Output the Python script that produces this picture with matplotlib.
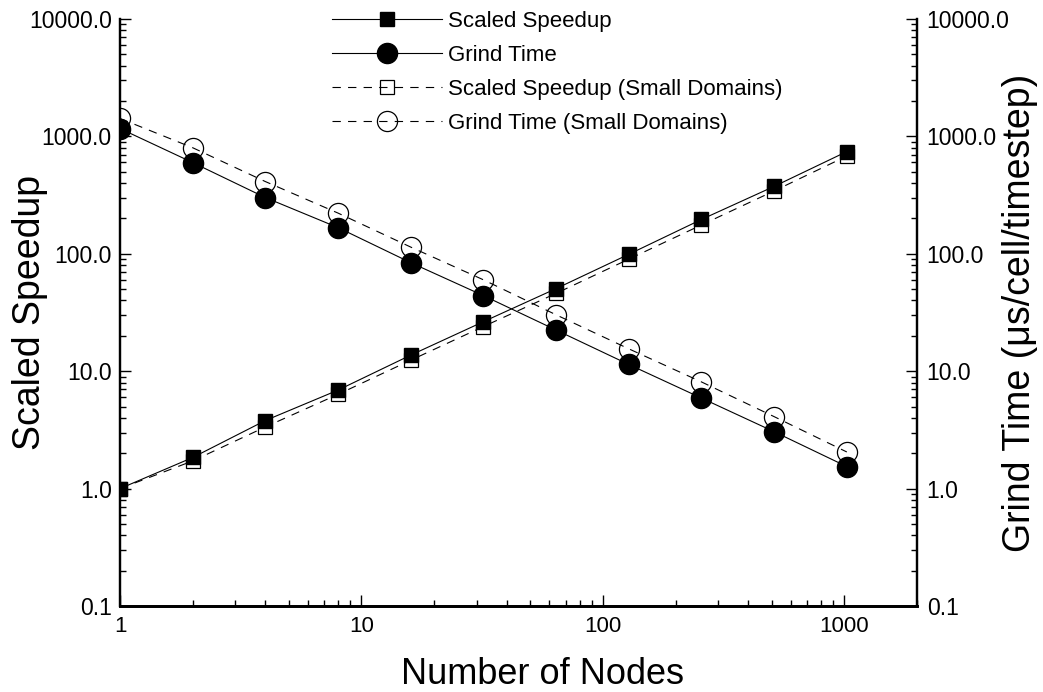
import matplotlib
matplotlib.use("Agg")
import matplotlib.pyplot as plt
from matplotlib.ticker import FixedLocator, FuncFormatter, LogLocator, NullFormatter

plt.rcParams["font.family"] = ["Liberation Sans", "DejaVu Sans"]

# values
nodes = [1, 2, 4, 8, 16, 32, 64, 128, 256, 512, 1024]
speedup = [1.0, 1.84, 3.8, 6.9, 13.7, 26.4, 50.5, 99, 196, 375, 742]
speedup_small = [1.0, 1.72, 3.35, 6.35, 12.4, 24.0, 46.0, 90, 176, 343, 680]
grind = [1165, 598, 301, 167, 84, 44, 22.4, 11.4, 5.9, 3.05, 1.54]
grind_small = [1420, 800, 412, 222, 114, 60, 30.2, 15.5, 8.1, 4.1, 2.05]

x_ticks = [1, 10, 100, 1000]
y_ticks = [0.1, 1, 10, 100, 1000, 10000]

dash = (0, (7.5, 6.5))

fig = plt.figure(figsize=(10.43, 6.92), dpi=100)
ax = fig.add_axes([0.1151, 0.1243, 0.7641, 0.8483])
ax2 = ax.twinx()

for a in (ax, ax2):
    a.set_xscale("log")
    a.set_yscale("log")
    a.set_ylim(0.1, 10000)
    a.yaxis.set_major_locator(FixedLocator(y_ticks))
    a.yaxis.set_minor_locator(LogLocator(base=10, subs=range(2, 10), numticks=20))
    a.yaxis.set_major_formatter(FuncFormatter(lambda v, _: f"{v:.1f}"))
    a.yaxis.set_minor_formatter(NullFormatter())
    a.spines["top"].set_visible(False)
    a.set_facecolor("none")
    for s in ("left", "right"):
        a.spines[s].set_linewidth(1.6)
    a.spines["bottom"].set_linewidth(2.0)
ax.set_xlim(1, 2000)
ax.xaxis.set_major_locator(FixedLocator(x_ticks))
ax.xaxis.set_minor_locator(LogLocator(base=10, subs=range(2, 10), numticks=20))
ax.xaxis.set_major_formatter(FuncFormatter(lambda v, _: f"{int(v)}"))
ax.xaxis.set_minor_formatter(NullFormatter())

ax.tick_params(which="both", direction="in", labelsize=16, pad=7.5, width=1.0,
               left=True, right=False, top=False, bottom=True)
ax.tick_params(axis="y", which="both", labelsize=16.5, pad=6)
ax.tick_params(which="major", length=8)
ax.tick_params(which="minor", length=4.3)
ax2.tick_params(which="both", direction="in", labelsize=16.5, pad=7, width=1.0,
                left=False, right=True)
ax2.tick_params(which="major", length=8)
ax2.tick_params(which="minor", length=4.3)

l3, = ax.plot(nodes, speedup_small, color="black", lw=0.8, linestyle=dash,
              marker="s", markersize=10.5, markerfacecolor="none",
              markeredgecolor="black", markeredgewidth=0.9,
              label="Scaled Speedup (Small Domains)")
l1, = ax.plot(nodes, speedup, color="black", lw=0.8, marker="s", markersize=10.5,
              markerfacecolor="black", markeredgecolor="black",
              label="Scaled Speedup")
l4, = ax2.plot(nodes, grind_small, color="black", lw=0.8, linestyle=dash,
               marker="o", markersize=14.5, markerfacecolor="none",
               markeredgecolor="black", markeredgewidth=0.9,
               label="Grind Time (Small Domains)")
l2, = ax2.plot(nodes, grind, color="black", lw=0.8, marker="o", markersize=14.5,
               markerfacecolor="black", markeredgecolor="black",
               label="Grind Time")

ax.set_xlabel("Number of Nodes", fontsize=26)
ax.xaxis.set_label_coords(0.5295, -0.0869)
ax.set_ylabel("Scaled Speedup", fontsize=27)
ax.yaxis.set_label_coords(-0.090, 0.5)
ax2.set_ylabel("Grind Time (\u03bcs/cell/timestep)", fontsize=27, rotation=90)
ax2.yaxis.set_label_coords(1.107, 0.5)

fig.legend(handles=[l1, l2, l3, l4], loc="upper left",
           bbox_to_anchor=(0.318, 0.984), frameon=False, fontsize=16,
           handlelength=4.95, handletextpad=0.3, labelspacing=0.58,
           borderpad=0, borderaxespad=0)

fig.savefig("out.png", dpi=100)
